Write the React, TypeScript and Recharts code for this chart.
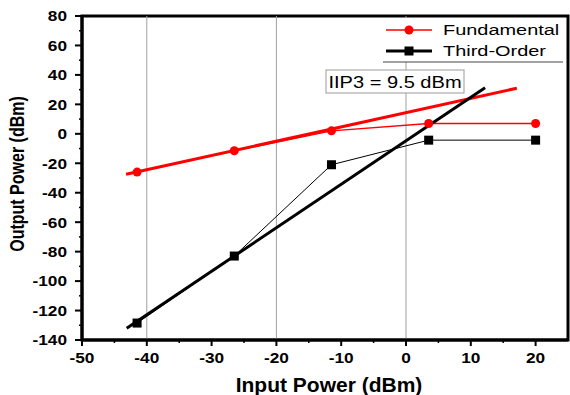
import { LineChart, Line, XAxis, YAxis, ReferenceLine, ReferenceArea, Label } from "recharts"

// measured points
const inputPower = [-41.5, -26.5, -11.5, 3.5, 20]
const fundamental = [-26, -11.5, 2, 7, 7]
const thirdOrder = [-128.5, -83, -21, -4.3, -4.3]

// extrapolated slopes (1:1 and 3:1)
const fundFitX = [-43.2, 17.1]
const fundFitY = [-27.5, 31]
const thirdFitX = [-43.1, 12.2]
const thirdFitY = [-132, 31.3]

const xTicks = [-50, -45, -40, -35, -30, -25, -20, -15, -10, -5, 0, 5, 10, 15, 20]
const xLabels = [-50, -40, -30, -20, -10, 0, 10, 20]
const yTicks = [-140, -130, -120, -110, -100, -90, -80, -70, -60, -50, -40, -30, -20, -10, 0, 10, 20, 30, 40, 50, 60, 70, 80]
const yLabels = [-140, -120, -100, -80, -60, -40, -20, 0, 20, 40, 60, 80]
const gridX = [-40, -20, 0]

const seriesData = inputPower.map((x, i) => ({ x, fund: fundamental[i], third: thirdOrder[i] }))
const fundFit = fundFitX.map((x, i) => ({ x, y: fundFitY[i] }))
const thirdFit = thirdFitX.map((x, i) => ({ x, y: thirdFitY[i] }))

const font = "'Liberation Sans', Arial, sans-serif"

const XTick = ({ x, y, payload }: any) => {
  const major = xLabels.includes(payload.value)
  return (
    <g>
      <line x1={x} x2={x} y1={y} y2={y + (major ? 6 : 3)} stroke="#000" strokeWidth={major ? 2 : 1.5} />
      {major && (
        <text transform={`translate(${x},${y + 12}) scale(1.15,1)`} textAnchor="middle" dy="0.71em"
          fontFamily={font} fontWeight="bold" fontSize={15} fill="#000">
          {payload.value}
        </text>
      )}
    </g>
  )
}

const YTick = ({ x, y, payload }: any) => {
  const major = yLabels.includes(payload.value)
  return (
    <g>
      <line x1={x - (major ? 7 : 3)} x2={x} y1={y} y2={y} stroke="#000" strokeWidth={major ? 2 : 1.5} />
      {major && (
        <text transform={`translate(${x - 15},${y}) scale(1.15,1)`} textAnchor="end" dy="0.36em"
          fontFamily={font} fontWeight="bold" fontSize={15} fill="#000">
          {payload.value}
        </text>
      )}
    </g>
  )
}

const Square = (p: any) =>
  p.cx == null ? <g key={`sq-${p.index}`} /> : (
    <rect key={`sq-${p.index}`} x={p.cx - 4.5} y={p.cy - 4.5} width={9} height={9} fill="#000" />
  )

export default function App() {
  return (
    <div style={{ position: "absolute", left: 0, top: 0, width: 570, height: 395, background: "#fff" }}>
      <LineChart width={570} height={395} data={seriesData} margin={{ top: 16, right: 2, bottom: 0, left: 0 }}>
        <XAxis type="number" dataKey="x" domain={[-50, 25]} ticks={xTicks} interval={0} height={55}
          allowDataOverflow axisLine={{ stroke: "#000", strokeWidth: 3 }} tickLine={false} tickSize={0} tickMargin={0}
          tick={<XTick />}>
          <Label content={({ viewBox }: any) => (
            <text transform={`translate(${viewBox.x + viewBox.width / 2 + 4},${viewBox.y + 51.5}) scale(1.05,1)`}
              textAnchor="middle" fontFamily={font} fontWeight="bold" fontSize={20} fill="#000">
              Input Power (dBm)
            </text>
          )} />
        </XAxis>
        <YAxis type="number" domain={[-140, 80]} ticks={yTicks} interval={0} width={82}
          allowDataOverflow axisLine={{ stroke: "#000", strokeWidth: 3 }} tickLine={false} tickSize={0} tickMargin={0}
          tick={<YTick />}>
          <Label content={({ viewBox }: any) => (
            <text transform={`translate(17,${viewBox.y + viewBox.height / 2 - 4}) rotate(-90) scale(1,1.25)`}
              textAnchor="middle" dy="0.36em" fontFamily={font} fontWeight="bold" fontSize={16} fill="#000">
              Output Power (dBm)
            </text>
          )} />
        </YAxis>
        {gridX.map((g) => (
          <ReferenceLine key={g} x={g} stroke="#a0a0a0" strokeWidth={1} />
        ))}
        <Line dataKey="fund" name="Fundamental" stroke="#ff0000" strokeWidth={1.5} isAnimationActive={false}
          dot={{ r: 4.5, fill: "#ff0000", stroke: "#ff0000", strokeWidth: 0 }} />
        <Line dataKey="third" name="Third-Order" stroke="#000" strokeWidth={1} isAnimationActive={false}
          dot={Square} />
        <Line data={fundFit} dataKey="y" stroke="#ff0000" strokeWidth={3} dot={false} isAnimationActive={false} />
        <Line data={thirdFit} dataKey="y" stroke="#000" strokeWidth={3} dot={false} isAnimationActive={false} />
        <ReferenceArea x1={-50} x2={25} y1={-140} y2={80} fill="none" stroke="#000" strokeWidth={3} />
      </LineChart>
      <svg width={570} height={395} style={{ position: "absolute", left: 0, top: 0, pointerEvents: "none" }}>
        <rect x={383} y={18} width={183} height={44} fill="#fff" />
        <line x1={383} x2={563} y1={62} y2={62} stroke="#444" strokeWidth={1} />
        <line x1={386} x2={432} y1={30} y2={30} stroke="#ff0000" strokeWidth={1.5} />
        <circle cx={409} cy={30} r={4.5} fill="#ff0000" />
        <text transform="translate(443,30) scale(1.33,1)" dy="0.36em" fontFamily={font} fontSize={15} fill="#000">
          Fundamental
        </text>
        <line x1={386} x2={432} y1={51} y2={51} stroke="#000" strokeWidth={3} />
        <rect x={404.5} y={46.5} width={9} height={9} fill="#000" />
        <text transform="translate(443,51) scale(1.33,1)" dy="0.36em" fontFamily={font} fontSize={15} fill="#000">
          Third-Order
        </text>
        <rect x={326} y={70} width={138} height={23} fill="#fff" stroke="#999" strokeWidth={1} />
        <text transform="translate(395,81.5) scale(1.18,1)" textAnchor="middle" dy="0.36em" fontFamily={font}
          fontSize={17} fill="#000">
          IIP3 = 9.5 dBm
        </text>
      </svg>
    </div>
  )
}
